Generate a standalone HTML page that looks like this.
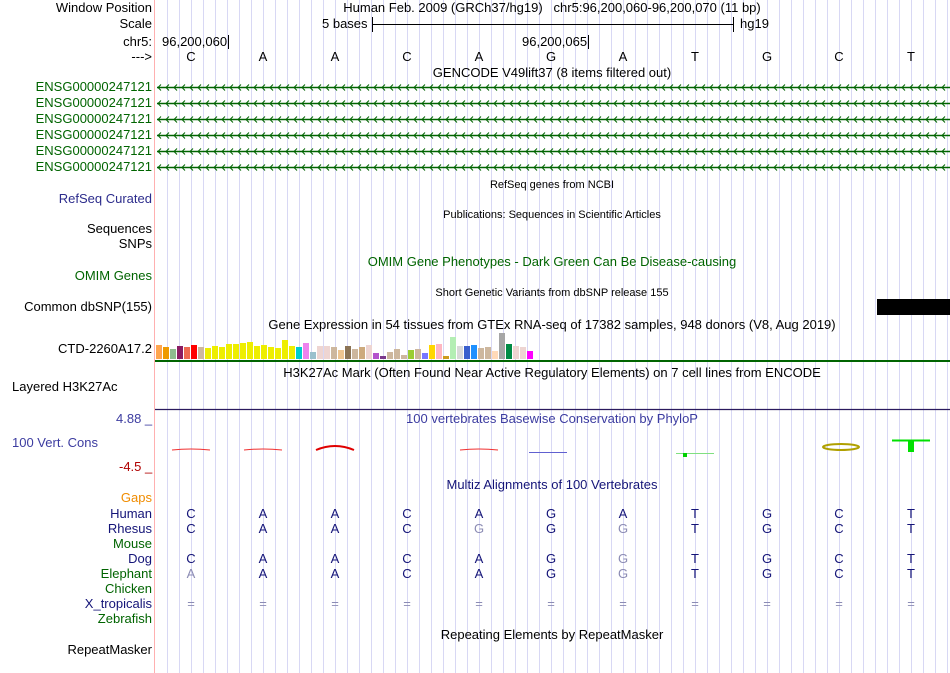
<!DOCTYPE html>
<html><head><meta charset="utf-8">
<style>
body{margin:0;background:#fff;}
#root{position:relative;width:950px;height:673px;overflow:hidden;font-family:"Liberation Sans",Arial,sans-serif;font-size:13px;color:#000;}
.l{position:absolute;right:798px;white-space:nowrap;line-height:14px;}
.t{position:absolute;white-space:nowrap;line-height:14px;transform:translateX(-50%);}
.s{font-size:11px;}
.g{color:#006400;}
.n{color:#141478;}
svg{position:absolute;left:0;top:0;}
</style></head><body>
<div id="root">
<svg id="grid" width="950" height="673"></svg>

<div class="l" style="top:1px">Window Position</div>
<div class="l" style="top:17px">Scale</div>
<div class="l" style="top:35px">chr5:</div>
<div class="l" style="top:50px">---&gt;</div>
<div class="t" style="left:552px;top:1px">Human Feb. 2009 (GRCh37/hg19)&nbsp;&nbsp;&nbsp;chr5:96,200,060-96,200,070 (11 bp)</div>
<div style="position:absolute;left:322px;top:17px;line-height:14px">5 bases</div>
<div style="position:absolute;left:740px;top:17px;line-height:14px">hg19</div>
<div style="position:absolute;left:162px;top:35px;line-height:14px">96,200,060</div>
<div style="position:absolute;left:522px;top:35px;line-height:14px">96,200,065</div>
<div class="t" style="left:552px;top:66px">GENCODE V49lift37 (8 items filtered out)</div>

<div class="l g" style="top:80px">ENSG00000247121</div>
<div class="l g" style="top:96px">ENSG00000247121</div>
<div class="l g" style="top:112px">ENSG00000247121</div>
<div class="l g" style="top:128px">ENSG00000247121</div>
<div class="l g" style="top:144px">ENSG00000247121</div>
<div class="l g" style="top:160px">ENSG00000247121</div>

<div class="t s" style="left:552px;top:178px">RefSeq genes from NCBI</div>
<div class="l n" style="top:192px;color:#2c2c8c">RefSeq Curated</div>
<div class="t s" style="left:552px;top:208px">Publications: Sequences in Scientific Articles</div>
<div class="l" style="top:222px">Sequences</div>
<div class="l" style="top:237px">SNPs</div>
<div class="t g" style="left:552px;top:255px">OMIM Gene Phenotypes - Dark Green Can Be Disease-causing</div>
<div class="l g" style="top:269px">OMIM Genes</div>
<div class="t s" style="left:552px;top:286px">Short Genetic Variants from dbSNP release 155</div>
<div class="l" style="top:300px">Common dbSNP(155)</div>
<div class="t" style="left:552px;top:318px">Gene Expression in 54 tissues from GTEx RNA-seq of 17382 samples, 948 donors (V8, Aug 2019)</div>
<div class="l" style="top:342px">CTD-2260A17.2</div>
<div class="t" style="left:552px;top:366px">H3K27Ac Mark (Often Found Near Active Regulatory Elements) on 7 cell lines from ENCODE</div>
<div style="position:absolute;left:12px;top:380px;line-height:14px">Layered H3K27Ac</div>
<div style="position:absolute;left:116px;top:412px;line-height:14px;color:#3c3ca0">4.88 _</div>
<div class="t" style="left:552px;top:412px;color:#3c3ca0">100 vertebrates Basewise Conservation by PhyloP</div>
<div style="position:absolute;left:12px;top:436px;line-height:14px;color:#3c3ca0">100 Vert. Cons</div>
<div style="position:absolute;left:119px;top:460px;line-height:14px;color:#b00000">-4.5 _</div>
<div class="t n" style="left:552px;top:478px">Multiz Alignments of 100 Vertebrates</div>
<div class="l" style="top:491px;color:#f08c00">Gaps</div>
<div class="l n" style="top:507px">Human</div>
<div class="l n" style="top:522px">Rhesus</div>
<div class="l g" style="top:537px">Mouse</div>
<div class="l n" style="top:552px">Dog</div>
<div class="l g" style="top:567px">Elephant</div>
<div class="l g" style="top:582px">Chicken</div>
<div class="l n" style="top:597px">X_tropicalis</div>
<div class="l g" style="top:612px">Zebrafish</div>
<div class="t" style="left:552px;top:628px">Repeating Elements by RepeatMasker</div>
<div class="l" style="top:643px">RepeatMasker</div>
<div id="dyn"></div>
</div>
<script>
const bases=["C","A","A","C","A","G","A","T","G","C","T"];
const rhesus=["C","A","A","C","g","G","g","T","G","C","T"];
const dog=["C","A","A","C","A","G","g","T","G","C","T"];
const elephant=["a","A","A","C","A","G","g","T","G","C","T"];
const gtexColors=["#FFA54F","#EE9A00","#8FBC8F","#8B1C62","#EE6A50","#FF0000","#CDB79E","#EEEE00","#EEEE00","#EEEE00","#EEEE00","#EEEE00","#EEEE00","#EEEE00","#EEEE00","#EEEE00","#EEEE00","#EEEE00","#EEEE00","#EEEE00","#00CDCD","#EE82EE","#9AC0CD","#EED5D2","#EED5D2","#CDB79E","#EEC591","#8B7355","#CDB79E","#CDAA7D","#EED5D2","#B452CD","#7A378B","#CDB79E","#CDB79E","#CDB79E","#9ACD32","#CDB79E","#7777FF","#FFD700","#FFB6C1","#CD9B1D","#B4EEB4","#D9D9D9","#3A5FCD","#1E90FF","#CDB79E","#CDB79E","#FFDAB9","#A6A6A6","#008B45","#EED5D2","#EED5D2","#FF00FF"];
const gtexValues=[14,12,10,13,12,14,12,11,13,12,15,15,16,17,13,14,12,11,19,13,12,16,7,13,13,12,9,13,10,12,14,6,3,7,10,4,9,10,6,14,15,3,22,13,13,14,11,12,8,26,15,13,12,8];
const phyloP=[-0.6,-0.6,-1.6,0,-0.6,-0.3,0,0.8,0,-1.2,3.5];

const NS="http://www.w3.org/2000/svg";
const svg=document.getElementById('grid');
const X0=155,BW=72;
const baseX=i=>X0+BW*(i+0.5);
function mk(tag,attrs){const e=document.createElementNS(NS,tag);for(const k in attrs)e.setAttribute(k,attrs[k]);svg.appendChild(e);return e;}
for(let x=X0+12;x<950;x+=12){const ln=mk('line',{x1:x+0.5,y1:0,x2:x+0.5,y2:673,stroke:'#d8d8f4','stroke-width':1});}
const border=mk('line',{x1:154.5,y1:0,x2:154.5,y2:673,stroke:'#ffb0b0','stroke-width':1});

mk('line',{x1:372,y1:24.5,x2:733,y2:24.5,stroke:'#000'});
mk('line',{x1:372.5,y1:17,x2:372.5,y2:32,stroke:'#000'});
mk('line',{x1:733.5,y1:17,x2:733.5,y2:32,stroke:'#000'});
mk('line',{x1:228.5,y1:35,x2:228.5,y2:49,stroke:'#000'});
mk('line',{x1:588.5,y1:35,x2:588.5,y2:49,stroke:'#000'});
for(let r=0;r<6;r++){const y=87.5+16*r;
 const gl=mk('line',{x1:157,y1:y,x2:950,y2:y,stroke:'#006400','stroke-width':1.5});
 
 let d='';for(let x=158;x<950;x+=8){d+=`M${x+3},${y-3}L${x},${y}L${x+3},${y+3}`;}
 mk('path',{d:d,stroke:'#006400',fill:'none','stroke-width':1});}
const sb=mk('rect',{x:877,y:299,width:73,height:16,fill:'#000'});

const gB=359;
gtexValues.forEach((v,i)=>{const r=mk('rect',{x:156+i*7,y:gB-v,width:6,height:v,fill:gtexColors[i]});
 });
mk('line',{x1:155,y1:361,x2:950,y2:361,stroke:'#006400','stroke-width':2});
mk('line',{x1:155,y1:409.5,x2:950,y2:409.5,stroke:'#2a1a5e','stroke-width':1.2});
phyloP.forEach((v,i)=>{if(v===0)return;const cx=baseX(i);let e;
 if(v>2){mk('line',{x1:cx-19,y1:440.5,x2:cx+19,y2:440.5,stroke:'#00e000','stroke-width':2});
  e=mk('rect',{x:cx-3,y:440,width:6,height:12,fill:'#00e000'});}
 else if(v>0){mk('line',{x1:cx-19,y1:453.5,x2:cx+19,y2:453.5,stroke:'#80e080'});
  e=mk('rect',{x:cx-12,y:453,width:4,height:4,fill:'#00d000'});}
 else if(v<-1.4){e=mk('path',{d:`M${cx-19},${450}Q${cx},${442} ${cx+19},${450}`,stroke:'#e00000',fill:'none','stroke-width':2});}
 else if(v<-1){e=mk('ellipse',{cx:cx+2,cy:447,rx:18,ry:3,stroke:'#b0a000',fill:'none','stroke-width':2});}
 else if(v<-0.4){e=mk('path',{d:`M${cx-19},${450}Q${cx},${448} ${cx+19},${450}`,stroke:'#f03030',fill:'none','stroke-width':1});}
 else {e=mk('line',{x1:cx-22,y1:452.5,x2:cx+16,y2:452.5,stroke:'#6060d0'});}
 });
const dyn=document.getElementById('dyn');
function txt(s,x,y,color,name){const d=document.createElement('div');d.textContent=s;
 d.style.cssText=`position:absolute;left:${x}px;top:${y}px;transform:translateX(-50%);line-height:14px;color:${color}`;
 dyn.appendChild(d);}
function row(arr,y,name){arr.forEach((b,i)=>{const gray=b===b.toLowerCase();txt(b.toUpperCase(),baseX(i),y,gray?'#8c8cb4':'#141478',name);});}
bases.forEach((b,i)=>txt(b,baseX(i),50,'#000','ref-base'));
row(bases,507,'human-base');row(rhesus,522,'rhesus-base');row(dog,552,'dog-base');row(elephant,567,'elephant-base');
bases.forEach((b,i)=>txt('=',baseX(i),597,'#8c8cb4','xtrop-gap'));
</script>
</body></html>
